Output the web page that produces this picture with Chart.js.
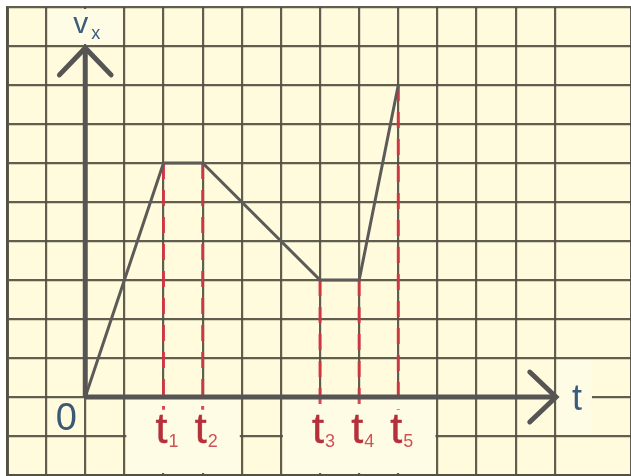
<!DOCTYPE html>
<html>
<head>
<meta charset="utf-8">
<script src="https://cdn.jsdelivr.net/npm/chart.js@4.4.1/dist/chart.umd.min.js"></script>
<style>
  html, body { margin: 0; padding: 0; background: #ffffff; }
  #wrap { width: 631px; height: 476px; }
</style>
</head>
<body>
<div id="wrap"><canvas id="chart" width="631" height="476"></canvas></div>
<script>
// velocity-time graph, one grid square = one unit
var tTimes  = [0, 2, 3, 6, 7, 8];
var vValues = [0, 6, 6, 3, 3, 8];

// marked instants t1..t5 (times and the speed reached there)
var markTimes  = [2, 3, 6, 7, 8];
var markSpeeds = [6, 6, 3, 3, 8];
var markSubs   = ['1', '2', '3', '4', '5'];

var xRange = [-2, 13.947];
var yRange = [-2, 10];

var axisColor  = '#565553';
var curveColor = '#5c5b58';
var dashColor  = 'rgba(214, 52, 66, 0.9)';
var gridColor  = 'rgba(84, 80, 66, 0.92)';
var paper      = '#fffbdc';
var plateColor = '#fffce6';

function pts(xs, ys) {
    var out = [];
    for (var i = 0; i < xs.length; i++) out.push({x: xs[i], y: ys[i]});
    return out;
}

var datasets = [];
// coordinate axes with arrow heads
datasets.push({data: pts([0, 0], [0, 8.95]), borderColor: axisColor, borderWidth: 5, order: 1});
datasets.push({data: pts([-0.66, 0, 0.66], [8.26, 8.95, 8.26]), borderColor: axisColor, borderWidth: 5, order: 1, borderCapStyle: 'round'});
datasets.push({data: pts([0, 12.03], [0, 0]), borderColor: axisColor, borderWidth: 5, order: 1});
datasets.push({data: pts([11.36, 12.03, 11.36], [0.64, 0, -0.64]), borderColor: axisColor, borderWidth: 5, order: 1, borderCapStyle: 'round'});
// v(t)
datasets.push({data: pts(tTimes, vValues), borderColor: curveColor, borderWidth: 3, order: 2});
// dashed drop lines
for (var i = 0; i < markTimes.length; i++) {
    datasets.push({
        data: pts([markTimes[i], markTimes[i]], [markSpeeds[i], -0.33]),
        borderColor: dashColor, borderWidth: 3, borderDash: [16, 11], order: 3
    });
}

// boxes behind the labels, in grid units [x0, x1, y0, y1]
var plates = [[1, 4, -2, 0], [5, 9, -2, 0], [-1, 1, 9, 10], [12, 13, -1, 1]];

var paperPlugin = {
    id: 'paper',
    beforeDraw: function(chart) {
        var ctx = chart.ctx, a = chart.chartArea;
        ctx.save();
        ctx.fillStyle = paper;
        ctx.fillRect(a.left, a.top, a.right - a.left, a.bottom - a.top);
        ctx.restore();
    },
    beforeDatasetsDraw: function(chart) {
        var ctx = chart.ctx, xs = chart.scales.x, ys = chart.scales.y;
        ctx.save();
        ctx.fillStyle = plateColor;
        plates.forEach(function(p) {
            var l = xs.getPixelForValue(p[0]) + 2, r = xs.getPixelForValue(p[1]) - 2;
            var t = ys.getPixelForValue(p[3]) + 2, b = ys.getPixelForValue(p[2]) - 2;
            ctx.fillRect(l, t, r - l, b - t);
        });
        ctx.restore();
    },
    afterDatasetsDraw: function(chart) {
        var ctx = chart.ctx, xs = chart.scales.x, ys = chart.scales.y;
        var x0 = xs.getPixelForValue(0), y0 = ys.getPixelForValue(0);
        ctx.save();
        ctx.textBaseline = 'alphabetic';
        ctx.lineWidth = 0.5;
        // t1..t5
        for (var i = 0; i < markTimes.length; i++) {
            var px = xs.getPixelForValue(markTimes[i]);
            ctx.fillStyle = ctx.strokeStyle = '#b5303b';
            ctx.font = '43px "Liberation Sans", Arial, sans-serif';
            ctx.textAlign = 'right';
            ctx.fillText('t', px + 4, y0 + 46);
            ctx.strokeText('t', px + 4, y0 + 46);
            ctx.fillStyle = '#cf5258';
            ctx.font = '18px "Liberation Sans", Arial, sans-serif';
            ctx.textAlign = 'left';
            ctx.fillText(markSubs[i], px + 5, y0 + 50);
        }
        // origin, axis names
        ctx.fillStyle = '#3b5877';
        ctx.font = '38px "Liberation Sans", Arial, sans-serif';
        ctx.textAlign = 'center';
        ctx.fillText('0', x0 - 19, y0 + 33);
        ctx.fillStyle = '#3a5d7e';
        ctx.textAlign = 'left';
        ctx.font = '30px "Liberation Sans", Arial, sans-serif';
        ctx.fillText('v', x0 - 12, 33);
        ctx.font = '18px "Liberation Sans", Arial, sans-serif';
        ctx.fillText('x', x0 + 6, 39);
        ctx.font = '36px "Liberation Sans", Arial, sans-serif';
        ctx.fillText('t', xs.getPixelForValue(12.44), y0 + 13);
        ctx.restore();
    }
};

new Chart(document.getElementById('chart'), {
    type: 'line',
    data: {datasets: datasets},
    options: {
        responsive: false,
        animation: false,
        devicePixelRatio: 1,
        layout: {padding: {left: 7, top: 7, right: 0, bottom: 1}},
        plugins: {legend: {display: false}, tooltip: {enabled: false}},
        elements: {point: {radius: 0}, line: {tension: 0, fill: false}},
        scales: {
            x: {
                type: 'linear', min: xRange[0], max: xRange[1],
                ticks: {display: false, stepSize: 1},
                grid: {color: gridColor, lineWidth: 2.2, drawTicks: false},
                border: {display: true, color: gridColor, width: 3}
            },
            y: {
                type: 'linear', min: yRange[0], max: yRange[1],
                ticks: {display: false, stepSize: 1},
                grid: {color: gridColor, lineWidth: 2.2, drawTicks: false},
                border: {display: true, color: gridColor, width: 3}
            }
        }
    },
    plugins: [paperPlugin]
});
</script>
</body>
</html>
